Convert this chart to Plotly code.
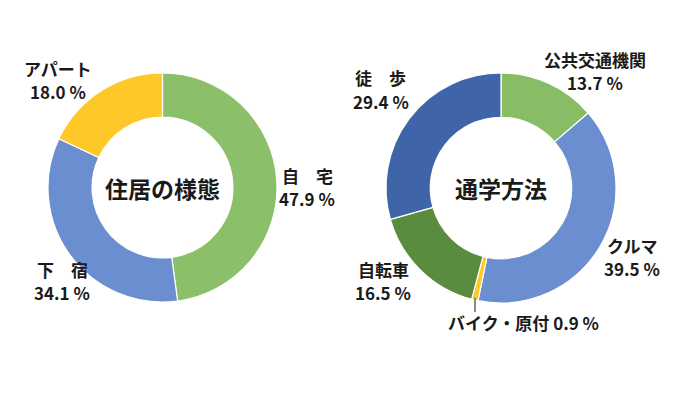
import plotly.graph_objects as go

# Data
housing_labels = ["自　宅", "下　宿", "アパート"]
housing_values = [47.9, 34.1, 18.0]
housing_title = "住居の様態"

commute_labels = ["公共交通機関", "クルマ", "バイク・原付", "自転車", "徒　歩"]
commute_values = [13.7, 39.5, 0.9, 16.5, 29.4]
commute_title = "通学方法"

# Styles
housing_colors = ["#8CBF6A", "#6A8ED0", "#FFC829"]
commute_colors = ["#88BD66", "#6A8ED0", "#FFC829", "#5A8C3F", "#3F64A8"]

FONT = "Noto Sans CJK JP"
W, H = 700, 394
OFF = 8  # page body margin


def px(x, y):
    return (x - OFF) / W, 1 - (y - OFF) / H


def dom(x0, x1, y0, y1):
    a, b = px(x0, y1)
    c, d = px(x1, y0)
    return dict(x=[a, c], y=[b, d])


fig = go.Figure()

fig.add_trace(go.Pie(
    labels=housing_labels, values=housing_values,
    hole=0.615, sort=False, direction="clockwise", rotation=0,
    marker=dict(colors=housing_colors, line=dict(color="white", width=1.2)),
    textinfo="none", hoverinfo="label+percent", showlegend=False,
    domain=dom(48, 277, 73, 302),
))

fig.add_trace(go.Pie(
    labels=commute_labels, values=commute_values,
    hole=0.615, sort=False, direction="clockwise", rotation=0,
    marker=dict(colors=commute_colors, line=dict(color="white", width=1.2)),
    textinfo="none", hoverinfo="label+percent", showlegend=False,
    domain=dom(386, 616, 73, 303),
))


def text_at(txt, x, y, size=17):
    xx, yy = px(x, y)
    fig.add_annotation(x=xx, y=yy, xref="paper", yref="paper", text=f"<b>{txt}</b>",
                       showarrow=False, xanchor="center", yanchor="middle",
                       align="center", borderpad=0,
                       font=dict(family=FONT, size=size, color="#1a1a1a"))


def lab(label, value, x, y, one_line=False):
    if one_line:
        text_at(f"{label} {value:.1f} %", x, y)
    else:
        text_at(label, x, y - 12)
        text_at(f"{value:.1f} %", x, y + 11)


# Housing labels
lab(housing_labels[0], housing_values[0], 307, 187)
lab(housing_labels[1], housing_values[1], 62, 281)
lab(housing_labels[2], housing_values[2], 58, 80)

# Commute labels
lab(commute_labels[0], commute_values[0], 595, 71)
lab(commute_labels[1], commute_values[1], 632, 257)
lab(commute_labels[2], commute_values[2], 523, 322, one_line=True)
lab(commute_labels[3], commute_values[3], 383, 281)
lab(commute_labels[4], commute_values[4], 381, 90)

# Leader line for small slice
x0, y0 = px(475, 298)
x1, y1 = px(475, 312)
fig.add_shape(type="line", xref="paper", yref="paper", x0=x0, y0=y0, x1=x1, y1=y1,
              line=dict(color="#1a1a1a", width=1))

# Center titles
for title, (cx, cy) in [(housing_title, (162, 188)), (commute_title, (501, 188))]:
    text_at(title, cx, cy, size=23)

fig.update_layout(
    width=W, height=H,
    margin=dict(l=0, r=0, t=0, b=0),
    paper_bgcolor="white", plot_bgcolor="white",
    font=dict(family=FONT),
)

fig.write_html("out.html")
